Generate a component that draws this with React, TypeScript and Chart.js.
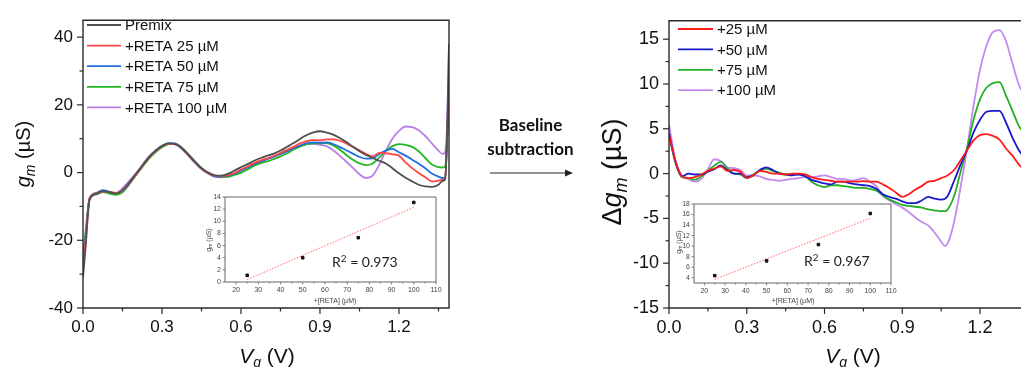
import React, { useEffect, useRef } from "react";
import { Chart, registerables } from "chart.js";

Chart.register(...registerables);

const SANS = '"Liberation Sans", Arial, Helvetica, sans-serif';
const NOTE = 'Lato, "Open Sans", sans-serif';

// ---------------- Left panel: g_m vs V_g ----------------
const vgLeft = [0, 0.01, 0.025, 0.05, 0.075, 0.1, 0.125, 0.15, 0.175, 0.2, 0.225, 0.25, 0.275, 0.3, 0.325, 0.35, 0.375, 0.4, 0.425, 0.45, 0.475, 0.5, 0.525, 0.55, 0.575, 0.6, 0.625, 0.65, 0.675, 0.7, 0.725, 0.75, 0.775, 0.8, 0.825, 0.85, 0.875, 0.9, 0.925, 0.95, 0.975, 1.0, 1.025, 1.05, 1.075, 1.1, 1.125, 1.15, 1.175, 1.2, 1.225, 1.25, 1.275, 1.3, 1.325, 1.35, 1.365, 1.375, 1.383, 1.39];
const premix = [-31, -22, -8, -6.3, -5.5, -5.8, -6.2, -5.2, -3, -0.5, 2, 4.5, 6.4, 7.8, 8.6, 8.4, 7.2, 5.3, 3.2, 1.3, 0, -0.8, -0.9, -0.4, 0.6, 1.6, 2.5, 3.5, 4.3, 5.0, 5.6, 6.5, 7.6, 8.7, 10, 11.1, 11.9, 12.2, 11.8, 11.2, 10.2, 9.0, 7.6, 6.3, 5.2, 4.3, 3.5, 2.7, 1.3, -0.2, -1.5, -2.6, -3.6, -4.1, -4.2, -3.6, -2.5, -2, 12, 38];
const reta25 = [-28, -20, -7.5, -6.2, -5.6, -5.8, -6, -5.3, -3.2, -0.8, 1.8, 4.3, 6.3, 7.8, 8.5, 8.4, 7.2, 5.2, 3.1, 1.2, -0.1, -0.9, -1.0, -0.8, -0.1, 0.9, 1.8, 2.8, 3.6, 4.2, 4.9, 5.8, 6.7, 7.6, 8.6, 9.3, 9.6, 9.5, 9.8, 9.8, 9.4, 8.6, 7.6, 6.6, 5.5, 4.8, 5.8, 5.7, 5.4, 5.0, 3.0, 1.3, -0.1, -1.4, -2.6, -2.4, -2.2, -1.8, 10, 30];
const reta50 = [-27, -19, -7.8, -6.0, -5.2, -5.6, -6.1, -5.4, -3.3, -0.7, 1.9, 4.4, 6.4, 7.9, 8.7, 8.6, 7.3, 5.2, 3.0, 1.1, -0.2, -1.1, -1.2, -0.9, -0.3, 0.6, 1.5, 2.5, 3.3, 4.0, 4.7, 5.5, 6.3, 7.2, 8.0, 8.7, 8.9, 8.8, 8.9, 8.4, 7.6, 6.6, 5.6, 4.6, 4.1, 4.2, 5.5, 6.5, 7.0, 6.0, 5.0, 3.8, 2.6, 1.3, -0.3, -1.2, -1.6, -1.5, 10, 28];
const reta75 = [-26, -18, -7.6, -6.3, -5.8, -6.2, -6.6, -5.8, -3.6, -0.9, 1.6, 4.0, 6.0, 7.5, 8.4, 8.5, 7.4, 5.4, 3.3, 1.4, 0, -0.9, -1.3, -1.3, -0.7, -0.1, 0.9, 2.0, 2.8, 3.3, 4.0, 4.8, 5.7, 6.8, 7.7, 8.4, 8.6, 8.6, 8.7, 8.0, 6.8, 5.2, 3.8, 2.7, 2.2, 2.7, 4.4, 6.4, 7.8, 8.4, 8.2, 7.6, 6.3, 4.3, 2.4, 1.6, 1.5, 1.8, 10, 26];
const reta100 = [-25, -17, -7.8, -6.5, -5.8, -5.8, -6.0, -4.6, -2.5, -0.3, 2.2, 4.8, 6.5, 7.8, 8.5, 8.3, 7.0, 5.0, 2.9, 1.0, -0.3, -1.2, -1.4, -1.1, -0.4, 0.5, 1.4, 2.4, 3.2, 4.0, 4.8, 5.6, 6.3, 7.0, 7.8, 8.4, 8.5, 8.2, 7.8, 6.6, 5.0, 3.2, 1.4, -0.5, -1.6, -0.9, 2.3, 6.4, 10.0, 12.3, 13.6, 13.4, 12.5, 10.8, 8.6, 6.5, 5.5, 6.0, 15, 38];
const leftLabels = ["Premix", "+RETA 25 \u00b5M", "+RETA 50 \u00b5M", "+RETA 75 \u00b5M", "+RETA 100 \u00b5M"];
const leftXTicks = [0, 0.3, 0.6, 0.9, 1.2];
const leftXMinor = [0.15, 0.45, 0.75, 1.05, 1.35];
const leftYTicks = [-40, -20, 0, 20, 40];
const leftYMinor = [-30, -10, 10, 30];

// ---------------- Right panel: delta g_m vs V_g ----------------
const vgRight = [0, 0.025, 0.05, 0.075, 0.1, 0.125, 0.15, 0.175, 0.2, 0.225, 0.25, 0.275, 0.3, 0.325, 0.35, 0.375, 0.4, 0.425, 0.45, 0.475, 0.5, 0.525, 0.55, 0.575, 0.6, 0.625, 0.65, 0.675, 0.7, 0.725, 0.75, 0.775, 0.8, 0.825, 0.85, 0.875, 0.9, 0.925, 0.95, 0.975, 1.0, 1.025, 1.05, 1.065, 1.075, 1.1, 1.125, 1.15, 1.175, 1.2, 1.225, 1.25, 1.275, 1.3, 1.325, 1.35, 1.36];
const delta25 = [4.3, 1.4, -0.3, -0.5, -0.4, -0.1, 0.3, 0.55, 0.8, 0.3, 0.4, 0.2, -0.5, -0.2, 0.3, 0.2, 0.0, 0.0, -0.1, 0.0, 0.0, -0.1, -0.4, -0.6, -0.7, -0.8, -0.9, -0.9, -0.9, -0.9, -0.85, -0.9, -0.9, -1.2, -1.6, -2.1, -2.6, -2.3, -1.8, -1.4, -0.9, -0.8, -0.5, -0.35, -0.2, 0.4, 1.5, 2.6, 3.7, 4.3, 4.4, 4.2, 3.8, 2.8, 2.0, 1.0, 0.7];
const delta50 = [4.5, 1.3, -0.3, 0.0, -0.1, -0.1, 0.2, 0.5, 0.9, 0.4, 0.0, 0.0, -0.4, -0.2, 0.4, 0.7, 0.4, 0.0, -0.1, -0.2, -0.1, -0.3, -0.7, -0.9, -1.1, -1.2, -0.9, -0.9, -1.1, -1.2, -1.3, -1.4, -1.7, -2.3, -2.6, -2.8, -3.1, -3.3, -3.3, -3.0, -2.6, -2.8, -2.9, -2.8, -2.5, -0.8, 1.0, 2.6, 4.6, 6.0, 6.9, 7.0, 7.0, 5.7, 4.0, 2.6, 2.2];
const delta75 = [4.2, 1.2, -0.4, -0.5, -0.7, -0.3, 0.3, 0.9, 1.3, 0.6, 0.0, -0.1, -0.5, -0.1, 0.3, 0.55, 0.3, 0.1, -0.1, -0.1, 0.0, -0.3, -0.9, -1.3, -1.5, -1.3, -1.3, -1.4, -1.5, -1.6, -1.6, -1.7, -1.9, -2.4, -2.9, -3.2, -3.5, -3.6, -3.7, -3.8, -4.0, -4.1, -4.2, -4.2, -4.0, -2.5, 0.2, 2.9, 6.0, 8.3, 9.6, 10.1, 10.2, 8.7, 7.0, 5.3, 4.9];
const delta100 = [5.5, 1.5, -0.2, -0.6, -0.9, -0.6, 0.5, 1.6, 1.4, 0.7, 0.6, 0.4, -0.2, -0.2, -0.3, -0.6, -0.7, -0.8, -0.7, -0.6, -0.5, -0.4, -0.4, -0.3, -0.2, -0.4, -0.6, -0.6, -0.8, -0.7, -0.5, -0.9, -1.4, -2.5, -3.0, -3.4, -3.8, -4.3, -4.9, -5.4, -5.8, -6.6, -7.6, -8.1, -7.8, -5.4, -1.5, 2.8, 7.6, 11.6, 14.3, 15.8, 16.0, 14.8, 12.3, 9.9, 9.3];
const rightLabels = ["+25 \u00b5M", "+50 \u00b5M", "+75 \u00b5M", "+100 \u00b5M"];
const rightXTicks = [0, 0.3, 0.6, 0.9, 1.2];
const rightXMinor = [0.15, 0.45, 0.75, 1.05];
const rightYTicks = [-15, -10, -5, 0, 5, 10, 15];
const rightYMinor = [-12.5, -7.5, -2.5, 2.5, 7.5, 12.5];

// ---------------- Insets: calibration vs [RETA] ----------------
const retaConc = [25, 50, 75, 100];
const insetLeftValues = [1.1, 4.0, 7.3, 13.1];
const insetLeftFit = [0.4, 12.3];
const insetRightValues = [4.4, 7.2, 10.3, 16.2];
const insetRightFit = [3.7, 15.3];
const fitConc = [25, 100];
const insetXTicks = [20, 30, 40, 50, 60, 70, 80, 90, 100, 110];
const insetXMinor = [25, 35, 45, 55, 65, 75, 85, 95, 105];
const insetLeftYTicks = [0, 2, 4, 6, 8, 10, 12, 14];
const insetRightYTicks = [4, 6, 8, 10, 12, 14, 16, 18];

type Part = { t: string; it?: boolean; sub?: boolean; sup?: boolean };

function drawRich(ctx: CanvasRenderingContext2D, parts: Part[], cx: number, cy: number, size: number, family: string, rotate: boolean, align = "center", color = "#111") {
  ctx.save();
  ctx.translate(cx, cy);
  if (rotate) ctx.rotate(-Math.PI / 2);
  const fontOf = (p: Part) => `${p.it ? "italic " : ""}${p.sub || p.sup ? Math.round(size * 0.68) : size}px ${family}`;
  let w = 0;
  for (const p of parts) {
    ctx.font = fontOf(p);
    w += ctx.measureText(p.t).width;
  }
  let x = align === "center" ? -w / 2 : 0;
  ctx.textAlign = "left";
  ctx.textBaseline = "alphabetic";
  ctx.fillStyle = color;
  const base = size * 0.36;
  for (const p of parts) {
    ctx.font = fontOf(p);
    const dy = p.sub ? size * 0.22 : p.sup ? -size * 0.38 : 0;
    ctx.fillText(p.t, x, base + dy);
    x += ctx.measureText(p.t).width;
  }
  ctx.restore();
}

const decoPlugin = {
  id: "deco",
  beforeDraw(chart: any, _a: any, o: any) {
    if (o.bg) {
      const a = chart.chartArea;
      chart.ctx.save();
      chart.ctx.fillStyle = "#fff";
      chart.ctx.fillRect(a.left, a.top, a.right - a.left, a.bottom - a.top);
      chart.ctx.restore();
    }
  },
  afterDraw(chart: any, _a: any, o: any) {
    const ctx: CanvasRenderingContext2D = chart.ctx;
    const a = chart.chartArea;
    const xs = chart.scales.x;
    const ys = chart.scales.y;
    ctx.save();
    ctx.strokeStyle = o.frameColor;
    ctx.lineWidth = o.frameWidth;
    ctx.beginPath();
    if (o.openRight) {
      ctx.moveTo(a.right + 2, a.top);
      ctx.lineTo(a.left, a.top);
      ctx.lineTo(a.left, a.bottom);
      ctx.lineTo(a.right + 2, a.bottom);
    } else {
      ctx.rect(a.left, a.top, a.right - a.left, a.bottom - a.top);
    }
    ctx.stroke();
    ctx.lineWidth = o.tickWidth;
    const seg = (x1: number, y1: number, x2: number, y2: number) => {
      ctx.beginPath();
      ctx.moveTo(x1, y1);
      ctx.lineTo(x2, y2);
      ctx.stroke();
    };
    for (const v of o.xMajor) { const p = xs.getPixelForValue(v); seg(p, a.bottom, p, a.bottom + o.majorLen); }
    for (const v of o.xMinor) { const p = xs.getPixelForValue(v); seg(p, a.bottom, p, a.bottom + o.minorLen); }
    for (const v of o.yMajor) { const p = ys.getPixelForValue(v); seg(a.left - o.majorLen, p, a.left, p); }
    for (const v of o.yMinor || []) { const p = ys.getPixelForValue(v); seg(a.left - o.minorLen, p, a.left, p); }
    if (o.legend) {
      const L = o.legend;
      chart.data.datasets.forEach((ds: any, i: number) => {
        const y = L.y0 + i * L.dy;
        ctx.strokeStyle = ds.borderColor;
        ctx.lineWidth = L.lw;
        seg(L.x0, y, L.x1, y);
        ctx.fillStyle = "#111";
        ctx.font = `${L.size}px ${SANS}`;
        ctx.textAlign = "left";
        ctx.textBaseline = "middle";
        ctx.fillText(ds.label, L.tx, y + 1);
      });
    }
    for (const t of o.titles || []) {
      drawRich(ctx, t.parts, t.x, t.y, t.size, t.family || SANS, !!t.rot, t.align || "center", t.color || "#111");
    }
    ctx.restore();
  },
};

function mainChart(canvas: HTMLCanvasElement, o: any) {
  return new Chart(canvas, {
    type: "line",
    data: {
      datasets: o.series.map((s: any) => ({
        label: s.label,
        data: o.x.map((v: number, i: number) => ({ x: v, y: s.data[i] })),
        borderColor: s.color,
        backgroundColor: s.color,
        borderWidth: 1.8,
        pointRadius: 0,
        cubicInterpolationMode: "monotone",
        fill: false,
      })),
    },
    options: {
      responsive: false,
      animation: false,
      events: [],
      layout: { padding: o.padding },
      plugins: { legend: { display: false }, tooltip: { enabled: false }, deco: o.deco } as any,
      scales: {
        x: {
          type: "linear",
          min: 0,
          max: o.xMax,
          grid: { display: false, drawTicks: false },
          border: { display: false },
          afterBuildTicks: (s: any) => { s.ticks = o.xTicks.map((v: number) => ({ value: v })); },
          afterFit: (s: any) => { s.height = o.xHeight; },
          ticks: { padding: o.xPad, autoSkip: false, maxRotation: 0, color: "#111", font: { family: SANS, size: o.tickSize }, callback: (v: any) => Number(v).toFixed(1) },
        },
        y: {
          type: "linear",
          min: o.yMin,
          max: o.yMax,
          grid: { display: false, drawTicks: false },
          border: { display: false },
          afterBuildTicks: (s: any) => { s.ticks = o.yTicks.map((v: number) => ({ value: v })); },
          afterFit: (s: any) => { s.width = o.yWidth; },
          ticks: { padding: o.yPad, autoSkip: false, color: "#111", font: { family: SANS, size: o.tickSize }, callback: (v: any) => String(v) },
        },
      },
    },
    plugins: [decoPlugin as any],
  });
}

function insetChart(canvas: HTMLCanvasElement, o: any) {
  return new Chart(canvas, {
    type: "scatter",
    data: {
      datasets: [
        {
          data: retaConc.map((c, i) => ({ x: c, y: o.values[i] })),
          backgroundColor: "#111",
          borderColor: "#111",
          pointStyle: "rect",
          pointRadius: 1.8,
          showLine: false,
        },
        {
          data: fitConc.map((c, i) => ({ x: c, y: o.fit[i] })),
          borderColor: "#ff6a6a",
          borderWidth: 1,
          borderDash: [1.5, 1.5],
          pointRadius: 0,
          showLine: true,
        },
      ],
    },
    options: {
      responsive: false,
      animation: false,
      events: [],
      layout: { padding: o.padding },
      plugins: { legend: { display: false }, tooltip: { enabled: false }, deco: o.deco } as any,
      scales: {
        x: {
          type: "linear",
          min: 15,
          max: 110,
          grid: { display: false, drawTicks: false },
          border: { display: false },
          afterBuildTicks: (s: any) => { s.ticks = insetXTicks.map((v) => ({ value: v })); },
          afterFit: (s: any) => { s.height = o.xHeight; },
          ticks: { padding: 4, autoSkip: false, maxRotation: 0, color: "#444", font: { family: SANS, size: 7 } },
        },
        y: {
          type: "linear",
          min: o.yMin,
          max: o.yMax,
          grid: { display: false, drawTicks: false },
          border: { display: false },
          afterBuildTicks: (s: any) => { s.ticks = o.yTicks.map((v: number) => ({ value: v })); },
          afterFit: (s: any) => { s.width = o.yWidth; },
          ticks: { padding: 4, autoSkip: false, color: "#444", font: { family: SANS, size: 7 } },
        },
      },
    },
    plugins: [decoPlugin as any],
  });
}

const gmTitle: Part[] = [{ t: "g", it: true }, { t: "m", it: true, sub: true }, { t: " (\u00b5S)" }];
const vgTitle: Part[] = [{ t: "V", it: true }, { t: "g", it: true, sub: true }, { t: " (V)" }];

export default function App() {
  const leftRef = useRef<HTMLCanvasElement>(null);
  const rightRef = useRef<HTMLCanvasElement>(null);
  const inLRef = useRef<HTMLCanvasElement>(null);
  const inRRef = useRef<HTMLCanvasElement>(null);

  useEffect(() => {
    const charts: Chart[] = [];
    const leftColors = ["#505050", "#ff4545", "#1f6fe0", "#1fb81f", "#b880e8"];
    const leftData = [premix, reta25, reta50, reta75, reta100];
    charts.push(
      mainChart(leftRef.current!, {
        x: vgLeft,
        series: leftData.map((d, i) => ({ label: leftLabels[i], data: d, color: leftColors[i] })),
        xMax: 1.39,
        yMin: -40,
        yMax: 45,
        xTicks: leftXTicks,
        yTicks: leftYTicks,
        padding: { left: 0, top: 13, right: 6, bottom: 0 },
        yWidth: 83,
        xHeight: 59,
        xPad: 9,
        yPad: 10,
        tickSize: 17,
        deco: {
          frameColor: "#2a2a2a",
          frameWidth: 1.4,
          tickWidth: 1.2,
          majorLen: 6,
          minorLen: 3.5,
          xMajor: leftXTicks,
          xMinor: leftXMinor,
          yMajor: leftYTicks,
          yMinor: leftYMinor,
          legend: { x0: 87, x1: 121, tx: 125, y0: 25, dy: 20.6, lw: 1.8, size: 15 },
          titles: [
            { parts: vgTitle, x: 267, y: 355, size: 21 },
            { parts: gmTitle, x: 23, y: 154, size: 20, rot: true },
          ],
        },
      })
    );
    const rightColors = ["#ff1a1a", "#1a1acc", "#22b022", "#c48af0"];
    const rightData = [delta25, delta50, delta75, delta100];
    charts.push(
      mainChart(rightRef.current!, {
        x: vgRight,
        series: rightData.map((d, i) => ({ label: rightLabels[i], data: d, color: rightColors[i] })),
        xMax: 1.358,
        yMin: -15,
        yMax: 17.05,
        xTicks: rightXTicks,
        yTicks: rightYTicks,
        padding: { left: 0, top: 16, right: 0, bottom: 0 },
        yWidth: 79,
        xHeight: 59,
        xPad: 9,
        yPad: 10,
        tickSize: 18,
        deco: {
          frameColor: "#2a2a2a",
          frameWidth: 1.4,
          tickWidth: 1.2,
          majorLen: 6,
          minorLen: 3.5,
          openRight: true,
          xMajor: rightXTicks,
          xMinor: rightXMinor,
          yMajor: rightYTicks,
          yMinor: rightYMinor,
          legend: { x0: 88, x1: 123, tx: 127, y0: 29, dy: 20.4, lw: 1.8, size: 15 },
          titles: [
            { parts: vgTitle, x: 263, y: 355, size: 21 },
            { parts: [{ t: "\u0394" }, { t: "g", it: true }, { t: "m", it: true, sub: true }, { t: " (\u00b5S)" }], x: 21, y: 172, size: 27, rot: true },
          ],
        },
      })
    );
    charts.push(
      insetChart(inLRef.current!, {
        values: insetLeftValues,
        fit: insetLeftFit,
        yMin: 0,
        yMax: 14,
        yTicks: insetLeftYTicks,
        padding: { left: 0, top: 9, right: 14, bottom: 0 },
        yWidth: 35,
        xHeight: 28,
        deco: {
          bg: true,
          frameColor: "#666",
          frameWidth: 1,
          tickWidth: 0.8,
          majorLen: 2.5,
          minorLen: 1.5,
          xMajor: insetXTicks,
          xMinor: insetXMinor,
          yMajor: insetLeftYTicks,
          titles: [
            { parts: [{ t: "+[RETA] (\u00b5M)" }], x: 145, y: 112, size: 7, color: "#444" },
            { parts: [{ t: "g" }, { t: "m", sub: true }, { t: " (\u00b5S)" }], x: 18, y: 52, size: 7, rot: true, color: "#444" },
            { parts: [{ t: "R" }, { t: "2", sup: true }, { t: " = 0.973" }], x: 142, y: 74, size: 14, family: NOTE, align: "left", color: "#222" },
          ],
        },
      })
    );
    charts.push(
      insetChart(inRRef.current!, {
        values: insetRightValues,
        fit: insetRightFit,
        yMin: 3,
        yMax: 18,
        yTicks: insetRightYTicks,
        padding: { left: 0, top: 9, right: 19, bottom: 0 },
        yWidth: 34,
        xHeight: 24,
        deco: {
          bg: true,
          frameColor: "#666",
          frameWidth: 1,
          tickWidth: 0.8,
          majorLen: 2.5,
          minorLen: 1.5,
          xMajor: insetXTicks,
          xMinor: insetXMinor,
          yMajor: insetRightYTicks,
          titles: [
            { parts: [{ t: "+[RETA] (\u00b5M)" }], x: 133, y: 105, size: 7, color: "#444" },
            { parts: [{ t: "g" }, { t: "m", sub: true }, { t: " (\u00b5S)" }], x: 18, y: 47, size: 7, rot: true, color: "#444" },
            { parts: [{ t: "R" }, { t: "2", sup: true }, { t: " = 0.967" }], x: 144, y: 66, size: 14, family: NOTE, align: "left", color: "#222" },
          ],
        },
      })
    );
    return () => charts.forEach((c) => c.destroy());
  }, []);

  const abs = (l: number, t: number): React.CSSProperties => ({ position: "absolute", left: l, top: t });
  return (
    <div style={{ position: "fixed", left: 0, top: 0, width: 1021, height: 367, background: "#fff", overflow: "hidden" }}>
      <canvas ref={leftRef} width={455} height={367} style={abs(0, 0)} />
      <canvas ref={rightRef} width={431} height={367} style={abs(590, 0)} />
      <canvas ref={inLRef} width={260} height={122} style={abs(190, 188)} />
      <canvas ref={inRRef} width={250} height={112} style={abs(660, 195)} />
      <div style={{ ...abs(468, 113), width: 125, textAlign: "center", font: `bold 17px ${NOTE}`, color: "#111", lineHeight: "24px" }}>
        Baseline
        <br />
        subtraction
      </div>
      <svg style={abs(486, 166)} width={92} height={14}>
        <line x1={4} y1={7} x2={82} y2={7} stroke="#222" strokeWidth={1.2} />
        <polygon points="79,3.5 87,7 79,10.5" fill="#222" />
      </svg>
    </div>
  );
}
